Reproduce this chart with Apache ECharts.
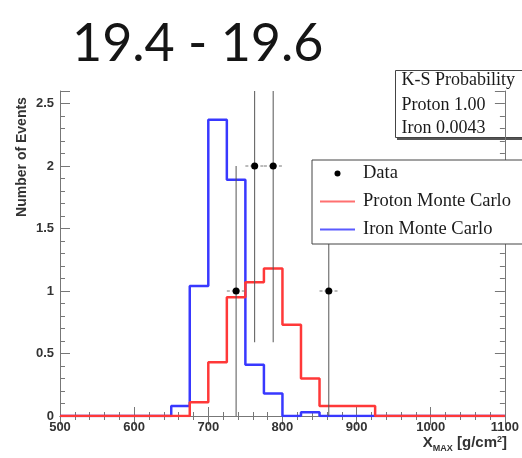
<!DOCTYPE html>
<html>
<head>
<meta charset="utf-8">
<script src="https://cdn.jsdelivr.net/npm/echarts@6/dist/echarts.min.js"></script>
<style>
  html, body { margin: 0; padding: 0; background: #fff; }
  #chart { width: 522px; height: 458px; }
</style>
</head>
<body>
<div id="chart"></div>
<script>
// histogram bin edges (g/cm2) and per-bin heights
var binEdges = [500, 650, 675, 700, 725, 750, 775, 800, 825, 850, 875, 900, 925, 1100]
var protonMC = [0, 0, 0.11, 0.43, 0.95, 1.07, 1.18, 0.73, 0.30, 0.08, 0.08, 0.08, 0]
var ironMC = [0, 0.08, 1.04, 2.37, 1.89, 0.41, 0.18, 0, 0.03, 0, 0, 0, 0]

// data points with sqrt(N) errors
var dataX = [737.5, 762.5, 787.5, 862.5]
var dataY = [1, 2, 2, 1]
var dataYErr = [1, 1.41, 1.41, 1]
var dataXErr = [12.5, 12.5, 12.5, 12.5]

var ksLines = ["K-S Probability", "Proton 1.00", "Iron 0.0043"]
var yMax = 2.6

function stepData(vals) {
  return binEdges.map(function (e, i) {
    return [e, vals[Math.min(i, vals.length - 1)]]
  })
}

var myChart = echarts.init(document.getElementById("chart"))

var tickColor = "#777"
var labelStyle = {
  color: "#333",
  fontFamily: "Liberation Sans",
  fontWeight: "bold",
  fontSize: 13
}
var serif = { fontFamily: "Liberation Serif", fontSize: 18, fill: "#1a1a1a", verticalAlign: "middle" }

var option = {
  animation: false,
  backgroundColor: "#fff",
  grid: { left: 60, right: 15, top: 91, bottom: 42, show: false },
  xAxis: [
    {
      type: "value",
      min: 500,
      max: 1100,
      interval: 100,
      axisLine: { show: true, lineStyle: { color: tickColor } },
      axisTick: { inside: true, length: 9, lineStyle: { color: tickColor } },
      minorTick: { show: true, splitNumber: 5, length: 4, lineStyle: { color: tickColor } },
      splitLine: { show: false },
      axisLabel: Object.assign({
        margin: 5,
        formatter: function (v) { return String(v) }
      }, labelStyle)
    },
    {
      type: "value",
      position: "top",
      min: 500,
      max: 1100,
      interval: 100,
      axisLine: { show: true, lineStyle: { color: tickColor } },
      axisTick: { inside: true, length: 9, lineStyle: { color: tickColor } },
      minorTick: { show: true, splitNumber: 5, length: 4, lineStyle: { color: tickColor } },
      splitLine: { show: false },
      axisLabel: { show: false }
    }
  ],
  yAxis: [
    {
      type: "value",
      min: 0,
      max: yMax,
      interval: 0.5,
      axisLine: { show: true, lineStyle: { color: tickColor } },
      axisTick: { inside: true, length: 10, lineStyle: { color: tickColor } },
      minorTick: { show: true, splitNumber: 5, length: 5, lineStyle: { color: tickColor } },
      splitLine: { show: false },
      axisLabel: Object.assign({
        margin: 6,
        showMaxLabel: false,
        formatter: function (v) { return String(v) }
      }, labelStyle)
    },
    {
      type: "value",
      position: "right",
      min: 0,
      max: yMax,
      interval: 0.5,
      axisLine: { show: true, lineStyle: { color: tickColor } },
      axisTick: { inside: true, length: 10, lineStyle: { color: tickColor } },
      minorTick: { show: true, splitNumber: 5, length: 5, lineStyle: { color: tickColor } },
      splitLine: { show: false },
      axisLabel: { show: false }
    }
  ],
  legend: {
    orient: "vertical",
    left: 312,
    top: 160,
    padding: [4, 30, 5, 8],
    itemGap: 9,
    itemWidth: 35,
    itemHeight: 6,
    backgroundColor: "#fff",
    borderColor: "#444",
    borderWidth: 1,
    textStyle: { fontFamily: "Liberation Serif", fontSize: 18.5, color: "#1a1a1a", padding: [0, 0, 0, 3] },
    data: [
      { name: "Data", icon: "circle" },
      { name: "Proton Monte Carlo", icon: "path://M0,0h18v1h-18z" },
      { name: "Iron Monte Carlo", icon: "path://M0,0h18v1h-18z" }
    ],
    z: 10
  },
  series: [
    {
      name: "Iron Monte Carlo",
      type: "line",
      step: "end",
      symbol: "none",
      data: stepData(ironMC),
      lineStyle: { color: "#3838ff", width: 2.5 },
      itemStyle: { color: "#5a5aff" },
      z: 2
    },
    {
      name: "Proton Monte Carlo",
      type: "line",
      step: "end",
      symbol: "none",
      data: stepData(protonMC),
      lineStyle: { color: "#ff3838", width: 2.5 },
      itemStyle: { color: "#ff7070" },
      z: 3
    },
    {
      name: "Data",
      type: "custom",
      clip: true,
      itemStyle: { color: "#000" },
      data: dataX.map(function (x, i) {
        return [x, dataY[i], dataYErr[i], dataXErr[i]]
      }),
      renderItem: function (params, api) {
        var x = api.value(0), y = api.value(1), e = api.value(2), xe = api.value(3)
        var c = api.coord([x, y])
        var top = api.coord([x, Math.min(yMax, y + e)])
        var bot = api.coord([x, Math.max(0, y - e)])
        var l = api.coord([x - xe, y])
        var r = api.coord([x + xe, y])
        return {
          type: "group",
          children: [
            { type: "line", shape: { x1: c[0], y1: top[1], x2: c[0], y2: bot[1] },
              style: { stroke: "#555", lineWidth: 1 } },
            { type: "line", shape: { x1: l[0], y1: c[1], x2: r[0], y2: c[1] },
              style: { stroke: "#777", lineWidth: 1, lineDash: [3, 2] } },
            { type: "circle", shape: { cx: c[0], cy: c[1], r: 3.5 },
              style: { fill: "#000" } }
          ]
        }
      },
      z: 4
    }
  ],
  graphic: [
    {
      type: "text",
      left: 72,
      top: 18,
      style: {
        text: "19.4 - 19.6",
        fontFamily: "Lato",
        fontWeight: "normal",
        fontSize: 52,
        fill: "#151515"
      },
      z: 20
    },
    {
      type: "text",
      x: 22,
      y: 157,
      rotation: Math.PI / 2,
      style: {
        text: "Number of Events",
        fontFamily: "Liberation Sans",
        fontWeight: "bold",
        fontSize: 14,
        fill: "#333",
        align: "center",
        verticalAlign: "middle"
      }
    },
    {
      type: "text",
      right: 15,
      top: 435,
      style: {
        text: "{b|X}{s|MAX}{b| [g/cm}{p|2}{b|]}",
        rich: {
          b: { fontFamily: "Liberation Sans", fontWeight: "bold", fontSize: 15, fill: "#333", verticalAlign: "bottom" },
          s: { fontFamily: "Liberation Sans", fontWeight: "bold", fontSize: 9, fill: "#333", verticalAlign: "bottom", padding: [0, 0, -3, 0] },
          p: { fontFamily: "Liberation Sans", fontWeight: "bold", fontSize: 9, fill: "#333", verticalAlign: "top" }
        }
      }
    },
    {
      type: "group",
      left: 395,
      top: 70,
      z: 15,
      children: [
        { type: "rect", shape: { x: 1.5, y: 1.5, width: 140, height: 68 }, style: { fill: "#555" } },
        { type: "rect", shape: { x: 0, y: 0, width: 140, height: 67 },
          style: { fill: "#fff", stroke: "#444", lineWidth: 1 } },
        { type: "text", x: 6, y: 10, style: Object.assign({ text: ksLines[0] }, serif) },
        { type: "text", x: 6, y: 35, style: Object.assign({ text: ksLines[1] }, serif) },
        { type: "text", x: 6, y: 58, style: Object.assign({ text: ksLines[2] }, serif) }
      ]
    }
  ]
}
myChart.setOption(option)
</script>
</body>
</html>
